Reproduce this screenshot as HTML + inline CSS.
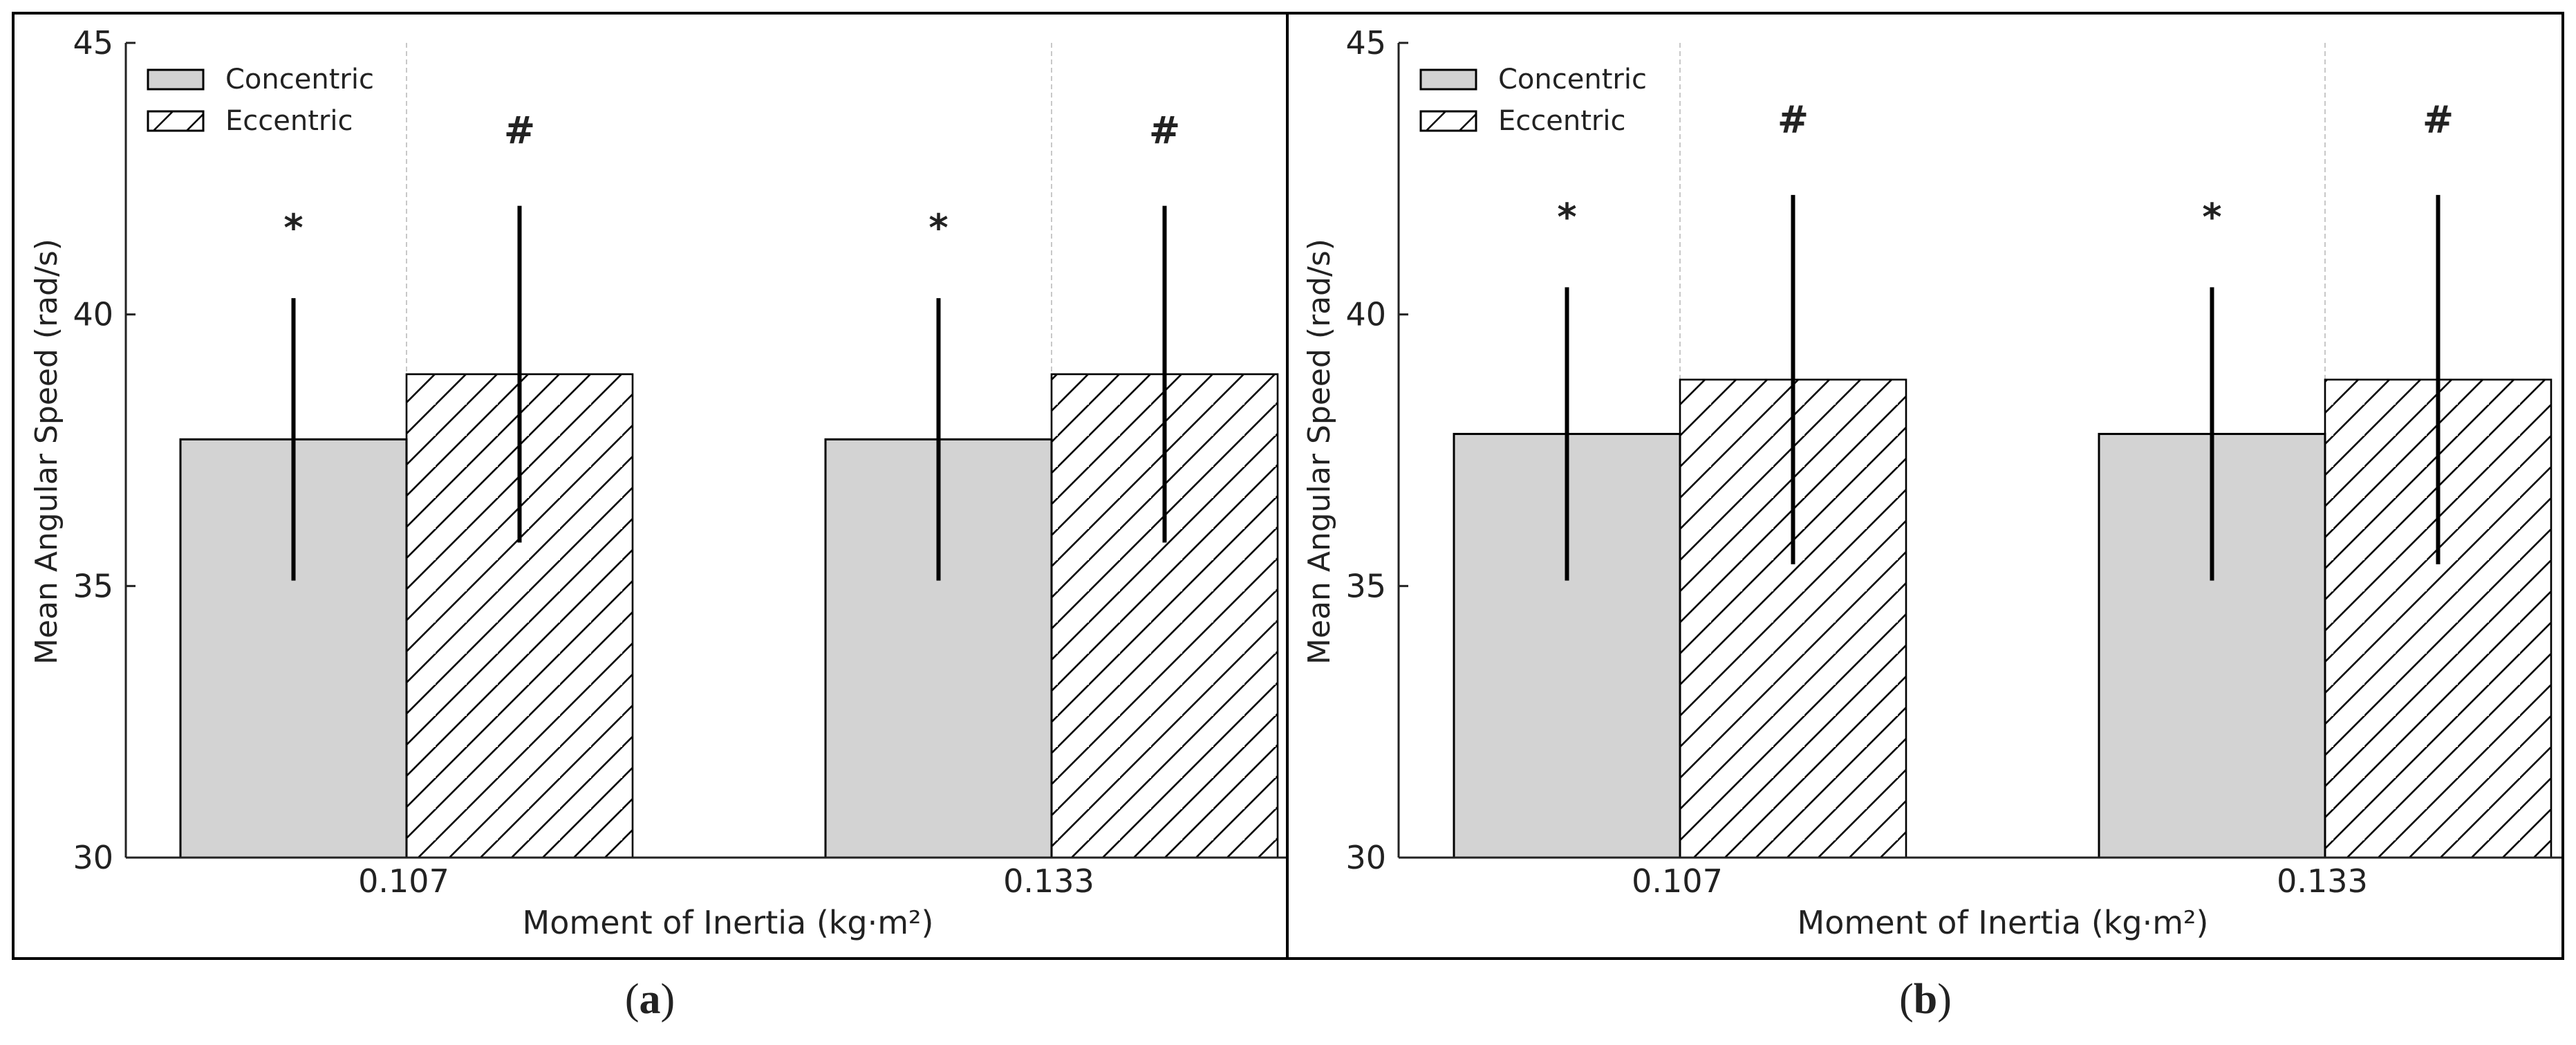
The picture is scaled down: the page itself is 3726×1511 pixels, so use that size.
<!DOCTYPE html>
<html><head><meta charset="utf-8"><style>
html,body{margin:0;padding:0;background:#fff;}
svg{display:block;}
text{font-family:"DejaVu Sans","Liberation Sans",sans-serif;fill:#222;}
</style></head><body>
<svg id="fig" width="3726" height="1511" viewBox="0 0 3726 1511" xmlns="http://www.w3.org/2000/svg">
<defs>
<pattern id="hatch" patternUnits="userSpaceOnUse" width="45" height="45">
<path d="M-5,50 L50,-5 M-50,50 L5,-5 M40,95 L95,40" stroke="#000" stroke-width="2.6"/>
</pattern>
</defs>
</svg>
<script>
const categories = ["0.107", "0.133"];
const yTicks = [30, 35, 40, 45];
const concA = [37.7, 37.7];
const concErrA = [2.6, 2.6];
const eccA = [38.9, 38.9];
const eccErrA = [3.1, 3.1];
const concB = [37.8, 37.8];
const concErrB = [2.7, 2.7];
const eccB = [38.8, 38.8];
const eccErrB = [3.4, 3.4];

const NS = "http://www.w3.org/2000/svg";
const svg = document.getElementById('fig');
function mk(tag, attrs, parent) {
  const e = document.createElementNS(NS, tag);
  for (const k in attrs) e.setAttribute(k, attrs[k]);
  (parent || svg).appendChild(e);
  return e;
}

function panel(p) {
  const g = mk('g', {});
  
  
  const y0 = 1240, yTop = 62, vMin = 30, vMax = 45;
  const y = v => y0 - (v - vMin) * (y0 - yTop) / (vMax - vMin);
  const x = i => p.c0 + 933 * i;
  const bw = 327;
  const clipId = 'clip' + p.id;
  const cp = mk('clipPath', {id: clipId}, g);
  mk('rect', {x: p.left, y: 0, width: p.right - p.left, height: 1511}, cp);
  const inner = mk('g', {'clip-path': 'url(#' + clipId + ')'}, g);

  categories.forEach((c, i) => {
    const l = mk('line', {x1: x(i), x2: x(i), y1: yTop, y2: y0, stroke: '#c8c8c8', 'stroke-width': 2, 'stroke-dasharray': '7,5'}, inner);
    
    
  });
  categories.forEach((c, i) => {
    const r1 = mk('rect', {x: x(i) - bw, y: y(p.conc[i]), width: bw, height: y0 - y(p.conc[i]), fill: '#d3d3d3', stroke: '#000', 'stroke-width': 3}, inner);
    
    
    const r2 = mk('rect', {x: x(i), y: y(p.ecc[i]), width: bw, height: y0 - y(p.ecc[i]), fill: 'url(#hatch)', stroke: '#000', 'stroke-width': 2.6}, inner);
    
    
  });
  categories.forEach((c, i) => {
    const sets = [[x(i) - bw / 2, p.conc[i], p.concErr[i], '*'], [x(i) + bw / 2, p.ecc[i], p.eccErr[i], '#']];
    sets.forEach(([cx, m, e, sym]) => {
      const l = mk('line', {x1: cx, x2: cx, y1: y(m + e), y2: y(m - e), stroke: '#000', 'stroke-width': 6}, inner);
      
      
      const cy = y(m + e + 1.4);
      const fs = 54;
      const t = mk('text', {x: cx, y: cy + (sym === '*' ? 0.5 : 0.36) * fs, 'text-anchor': 'middle', 'font-size': fs, 'font-weight': 'bold'}, inner);
      t.textContent = sym;
      
      
    });
  });
  const xa = mk('line', {x1: p.axL, x2: p.right, y1: y0, y2: y0, stroke: '#222', 'stroke-width': 3}, inner);
  
  
  const ya = mk('line', {x1: p.axL, x2: p.axL, y1: yTop, y2: y0, stroke: '#222', 'stroke-width': 3}, g);
  
  
  yTicks.forEach(v => {
    const tk = mk('line', {x1: p.axL, x2: p.axL + 14, y1: y(v), y2: y(v), stroke: '#222', 'stroke-width': 3}, g);
    
    
    const t = mk('text', {x: p.axL - 18, y: y(v) + 16, 'text-anchor': 'end', 'font-size': 46}, g);
    t.textContent = v;
    
    
  });
  categories.forEach((c, i) => {
    const t = mk('text', {x: x(i) - 4, y: 1290, 'text-anchor': 'middle', 'font-size': 46}, g);
    t.textContent = c;
    
    
  });
  const xt = mk('text', {x: p.xTitle, y: 1350, 'text-anchor': 'middle', 'font-size': 46}, g);
  xt.textContent = 'Moment of Inertia (kg·m²)';
  
  
  const yt = mk('text', {x: 0, y: 0, 'text-anchor': 'middle', 'font-size': 44, transform: 'translate(' + (p.axL - 100) + ',653) rotate(-90)'}, g);
  yt.textContent = 'Mean Angular Speed (rad/s)';
  
  
  const lg = mk('g', {}, g);
  
  
  const lx = p.axL + 32;
  const e1 = mk('rect', {x: lx, y: 101, width: 80, height: 28, fill: '#d3d3d3', stroke: '#000', 'stroke-width': 3}, lg);
  
  
  const t1 = mk('text', {x: lx + 112, y: 128, 'font-size': 40}, lg);
  t1.textContent = 'Concentric';
  
  
  const e2 = mk('rect', {x: lx, y: 161, width: 80, height: 28, fill: '#fff', stroke: '#000', 'stroke-width': 3}, lg);
  
  
  const hl = mk('path', {d: 'M' + (lx + 8) + ',189 L' + (lx + 36) + ',161 M' + (lx + 56) + ',189 L' + (lx + 80) + ',165', stroke: '#000', 'stroke-width': 2.6}, lg);
  
  
  const t2 = mk('text', {x: lx + 112, y: 188, 'font-size': 40}, lg);
  t2.textContent = 'Eccentric';
  
  
  const b = mk('rect', {x: p.left, y: 19, width: p.right - p.left, height: 1367, fill: 'none', stroke: '#000', 'stroke-width': 4}, g);
  
  
  const cap = mk('text', {x: p.cap, y: 1465, 'text-anchor': 'middle', 'font-size': 62, style: 'font-family:"Liberation Serif",serif'}, g);
  cap.innerHTML = '(<tspan font-weight="bold">' + p.id + '</tspan>)';
  
  
}

panel({id: 'a', left: 19, right: 1862, axL: 182, c0: 588, conc: concA, concErr: concErrA, ecc: eccA, eccErr: eccErrA, xTitle: 1053, cap: 940});
panel({id: 'b', left: 1862, right: 3707, axL: 2023, c0: 2430, conc: concB, concErr: concErrB, ecc: eccB, eccErr: eccErrB, xTitle: 2897, cap: 2785});
</script>
</body></html>
